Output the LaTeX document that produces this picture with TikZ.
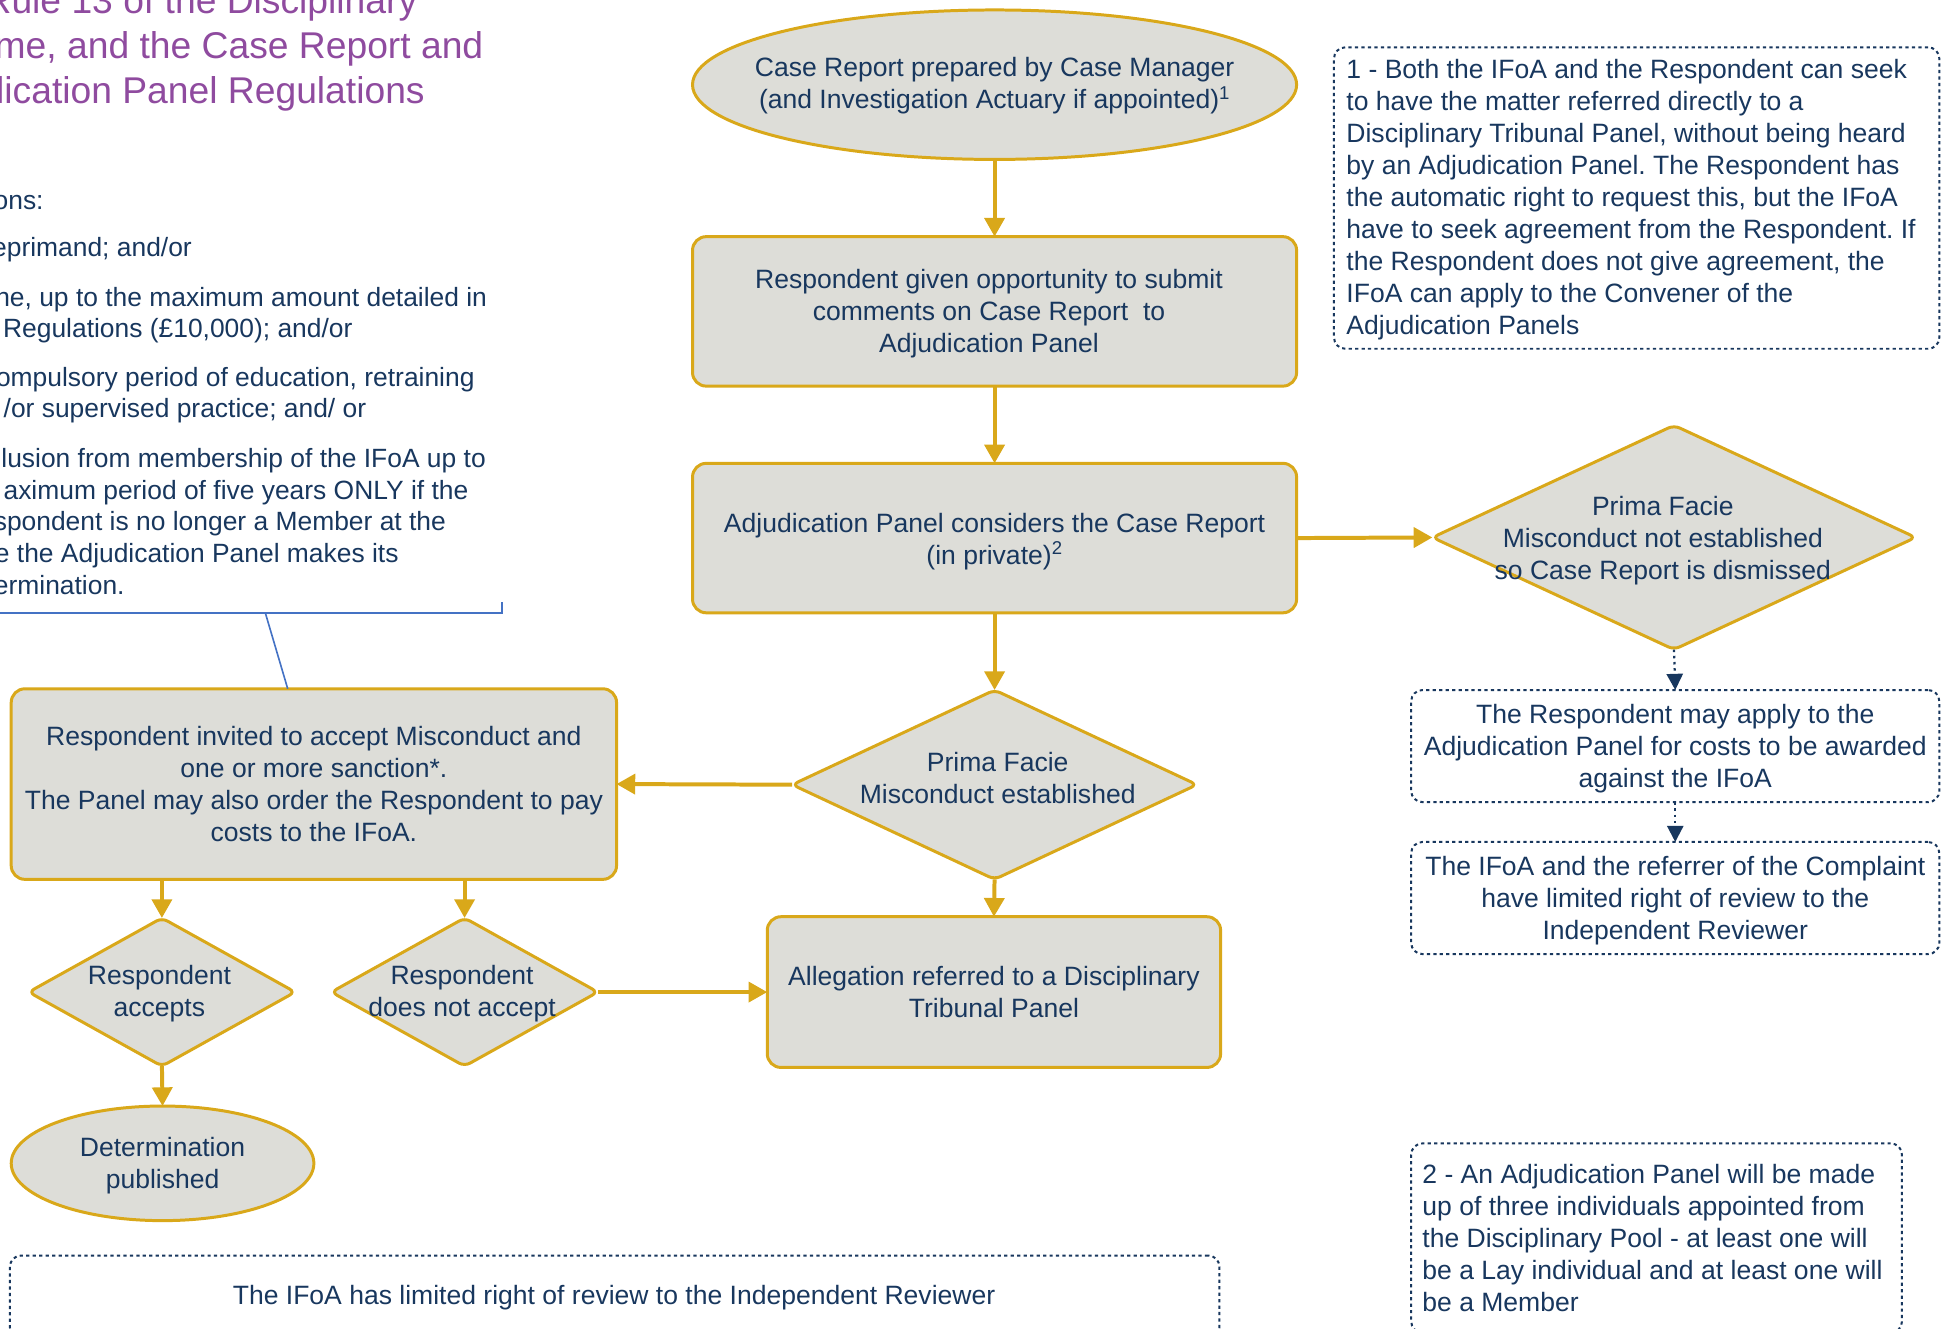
\documentclass[tikz,border=0pt]{standalone}
\usepackage{fontspec}
\setmainfont{Liberation Sans}
\usetikzlibrary{shapes.geometric,arrows.meta,calc}
\definecolor{flowgold}{RGB}{217,168,26}
\definecolor{flowfill}{RGB}{221,221,216}
\definecolor{flownavy}{RGB}{24,55,94}
\definecolor{titlepurple}{RGB}{143,75,159}
\definecolor{calloutblue}{RGB}{68,114,196}
\newcommand{\flowfont}{\fontsize{21.3}{25.7}\selectfont}
\newcommand{\listfont}{\fontsize{21.2}{25.5}\selectfont}
\newcommand{\titlefont}{\fontsize{29.9}{36}\selectfont}
\begin{document}
\frenchspacing
\begin{tikzpicture}[x=1pt, y=-1pt,
  every node/.style={inner sep=0pt, outer sep=0pt, text=flownavy, font=\flowfont},
  flowbox/.style={rectangle, draw=flowgold, fill=flowfill, line width=2.4pt, rounded corners=11pt, align=center},
  flowell/.style={ellipse, draw=flowgold, fill=flowfill, line width=2.4pt},
  flowdia/.style={diamond, draw=flowgold, fill=flowfill, line width=2.4pt, rounded corners=5pt},
  flowtext/.style={align=center},
  notebox/.style={rectangle, draw=flownavy, line width=1.6pt, dash pattern=on 2.6pt off 2.6pt, rounded corners=9pt, align=center},
  goldarrow/.style={draw=flowgold, line width=3.2pt, -{Triangle[length=15pt,width=16pt]}},
  navyarrow/.style={draw=flownavy, line width=1.8pt, dash pattern=on 2pt off 3pt, -{Triangle[length=13pt,width=13pt]}},
  callout/.style={draw=calloutblue, line width=1.3pt},
  titletext/.style={text=titlepurple, font=\titlefont, anchor=base east},
  listtext/.style={font=\listfont, anchor=base east}]
\useasboundingbox (0,0) rectangle (1568,1067);
\clip (0,0) rectangle (1568,1067);

% title
\node[titletext] (title1) at (335,11) {Rule 13 of the Disciplinary};
\node[titletext] (title2) at (388,47) {me, and the Case Report and};
\node[titletext] (title3) at (341,83) {lication Panel Regulations};

% sanctions list
\node[listtext] (s1) at (35,168) {ons:};
\node[listtext] (s2) at (154,206) {eprimand; and/or};
\node[listtext] (s3) at (391,246) {ne, up to the maximum amount detailed in};
\node[listtext] (s4) at (283,271) {Regulations (£10,000); and/or};
\node[listtext] (s5) at (381,310) {ompulsory period of education, retraining};
\node[listtext] (s6) at (294,335) {/or supervised practice; and/ or};
\node[listtext] (s7) at (390,375) {lusion from membership of the IFoA up to};
\node[listtext] (s8) at (376,401) {aximum period of five years ONLY if the};
\node[listtext] (s9) at (358,426) {spondent is no longer a Member at the};
\node[listtext] (s10) at (320,452) {e the Adjudication Panel makes its};
\node[listtext] (s11) at (100,477) {ermination.};

% main flow shapes
\node[flowell, minimum width=485pt, minimum height=120pt] (e1) at (798.5,68) {};
\node[flowtext] (e1t) at (798.5,69) {Case Report prepared by Case Manager\\(and Investigation Actuary if appointed)\textsuperscript{1}};

\node[flowbox, minimum width=485pt, minimum height=120pt] (b2) at (798.5,250) {};
\node[flowtext] (b2t) at (794,252) {Respondent given opportunity to submit\\comments on Case Report \ to\\Adjudication Panel};

\node[flowbox, minimum width=485pt, minimum height=120pt] (b3) at (798.5,432) {};
\node[flowtext] (b3t) at (798.5,434.5) {Adjudication Panel considers the Case Report\\(in private)\textsuperscript{2}};

\node[flowdia, minimum width=388pt, minimum height=180pt] (d1) at (1344,431.5) {};
\node[flowtext] (d1t) at (1335,434) {Prima Facie\\Misconduct not established\\so Case Report is dismissed};

\node[flowdia, minimum width=325pt, minimum height=152pt] (d2) at (798.5,630) {};
\node[flowtext] (d2t) at (801,625) {Prima Facie\\Misconduct established};

\node[flowbox, minimum width=486pt, minimum height=153pt] (binv) at (252,629.5)
  {Respondent invited to accept Misconduct and\\one or more sanction*.\\The Panel may also order the Respondent to pay\\costs to the IFoA.};

\node[flowbox, minimum width=364pt, minimum height=121pt] (balleg) at (798,796.5)
  {Allegation referred to a Disciplinary\\Tribunal Panel};

\node[flowdia, minimum width=214pt, minimum height=119pt] (dacc) at (130,796.5) {};
\node[flowtext] (dacct) at (128,798) {Respondent\\accepts};

\node[flowdia, minimum width=214pt, minimum height=119pt] (dnot) at (373,796.5) {};
\node[flowtext] (dnott) at (371,798) {Respondent\\does not accept};

\node[flowell, minimum width=243pt, minimum height=92pt] (e2) at (130.5,934) {};
\node[flowtext] (e2t) at (130.5,936) {Determination\\published};

% notes
\node[notebox, minimum width=486pt, minimum height=242pt] (n1) at (1314,159) {};
\node[align=left, anchor=west] (n1t) at (1081,160.5)
  {1 - Both the IFoA and the Respondent can seek\\to have the matter referred directly to a\\Disciplinary Tribunal Panel, without being heard\\by an Adjudication Panel. The Respondent has\\the automatic right to request this, but the IFoA\\have to seek agreement from the Respondent. If\\the Respondent does not give agreement, the\\IFoA can apply to the Convener of the\\Adjudication Panels};

\node[notebox, minimum width=424pt, minimum height=90pt] (ncost) at (1345,599) {};
\node[flowtext] (ncostt) at (1345,601)
  {The Respondent may apply to the\\Adjudication Panel for costs to be awarded\\against the IFoA};

\node[notebox, minimum width=424pt, minimum height=90pt] (nrev) at (1345,721) {};
\node[flowtext] (nrevt) at (1345,723)
  {The IFoA and the referrer of the Complaint\\have limited right of review to the\\Independent Reviewer};

\node[notebox, minimum width=394pt, minimum height=152pt] (n2) at (1330,994) {};
\node[align=left, anchor=west] (n2t) at (1142,994)
  {2 - An Adjudication Panel will be made\\up of three individuals appointed from\\the Disciplinary Pool - at least one will\\be a Lay individual and at least one will\\be a Member};

\node[notebox, minimum width=971pt, minimum height=67pt] (nbot) at (493.5,1041.5) {};
\node (nbott) at (493,1042) {The IFoA has limited right of review to the Independent Reviewer};

% connectors
\draw[goldarrow] (e1.south) -- (b2.north);
\draw[goldarrow] (b2.south) -- (b3.north);
\draw[goldarrow] (b3.east) -- (d1.west);
\draw[goldarrow] (b3.south) -- (d2.north);
\draw[goldarrow] (d2.west) -- (binv.east);
\draw[goldarrow] (d2.south) -- (balleg.north);
\draw[goldarrow] (dacc.north |- binv.south) -- (dacc.north);
\draw[goldarrow] (dnot.north |- binv.south) -- (dnot.north);
\draw[goldarrow] (dnot.east) -- (balleg.west);
\draw[goldarrow] (dacc.south) -- (e2.north);
\draw[navyarrow] (d1.south) -- (ncost.north);
\draw[navyarrow] (ncost.south) -- (nrev.north);

% callout
\coordinate (cA) at (0,492);
\coordinate (cB) at (403,492);
\coordinate (cC) at (403,483);
\coordinate (cK) at (213,492);
\draw[callout] (cA) -- (cB) -- (cC);
\draw[callout] (cK) -- ([xshift=-21pt]binv.north);
\end{tikzpicture}
\end{document}
